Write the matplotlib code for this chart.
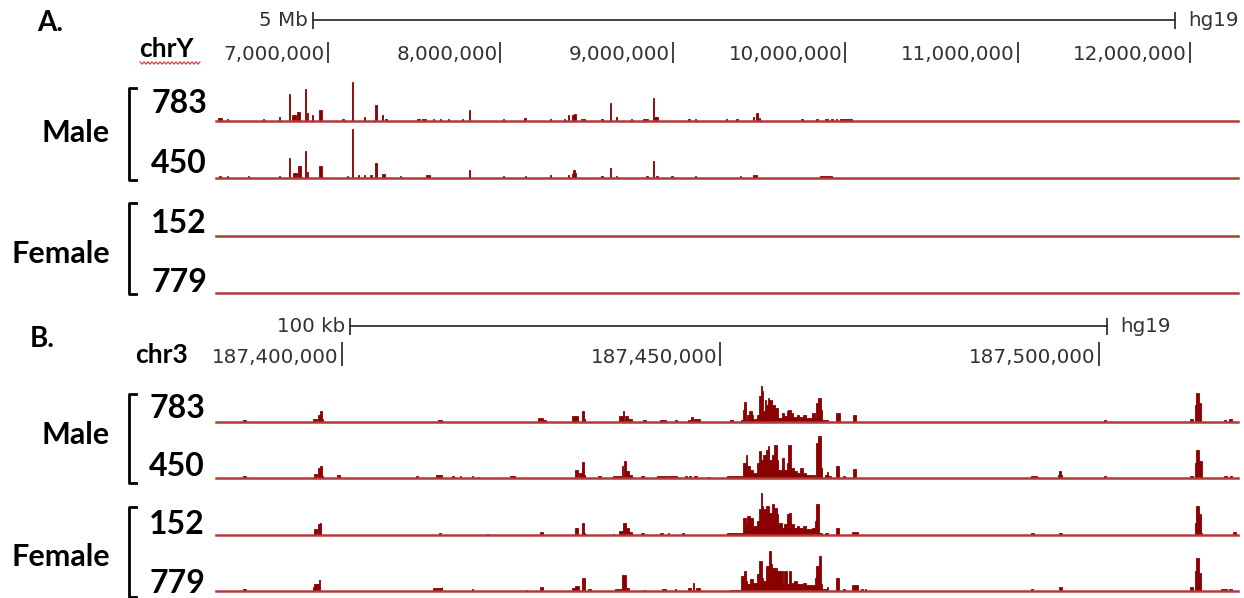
import numpy as np
import matplotlib
matplotlib.use("Agg")
import matplotlib.pyplot as plt
from matplotlib.lines import Line2D

W, H = 1244, 598

# ---------------- panel A: chrY (positions in Mb) ----------------
a_chrom = "chrY"
a_xlim = (6.350, 12.278)
a_ticks = [7, 8, 9, 10, 11, 12]
a_tick_labels = ["7,000,000", "8,000,000", "9,000,000",
                 "10,000,000", "11,000,000", "12,000,000"]
a_scale_start = 6.913
a_scale_len = 5
a_scale_label = "5 Mb"

# (start, end, signal)
a_783 = [
    (6.362, 6.385, 3), (6.411, 6.420, 2), (6.620, 6.628, 2), (6.714, 6.720, 4),
    (6.771, 6.779, 27), (6.791, 6.814, 6), (6.820, 6.837, 9), (6.864, 6.872, 32),
    (6.875, 6.884, 8), (6.904, 6.913, 6), (6.948, 6.962, 11), (7.083, 7.095, 2),
    (7.136, 7.144, 39), (7.206, 7.214, 4), (7.275, 7.283, 16), (7.310, 7.318, 6),
    (7.333, 7.339, 2), (7.516, 7.534, 2), (7.545, 7.568, 2), (7.606, 7.613, 2),
    (7.647, 7.654, 2), (7.693, 7.700, 2), (7.774, 7.781, 2), (7.815, 7.823, 11),
    (8.012, 8.019, 2), (8.138, 8.149, 3), (8.285, 8.292, 2), (8.366, 8.373, 2),
    (8.389, 8.397, 6), (8.415, 8.427, 6), (8.427, 8.439, 7), (8.468, 8.491, 2),
    (8.586, 8.593, 2), (8.633, 8.641, 18), (8.668, 8.675, 4), (8.755, 8.762, 2),
    (8.827, 8.856, 2), (8.882, 8.890, 23), (8.893, 8.914, 4), (9.088, 9.100, 2),
    (9.126, 9.133, 2), (9.306, 9.313, 2), (9.369, 9.376, 2), (9.462, 9.469, 4),
    (9.485, 9.492, 8), (9.497, 9.504, 3), (9.746, 9.753, 2), (9.833, 9.840, 2),
    (9.883, 9.900, 2), (9.920, 9.927, 2), (9.944, 9.951, 2), (9.970, 10.039, 2),
]
a_450 = [
    (6.367, 6.380, 2), (6.411, 6.420, 2), (6.533, 6.540, 2), (6.713, 6.720, 2),
    (6.771, 6.779, 20), (6.797, 6.820, 5), (6.825, 6.843, 12), (6.864, 6.872, 27),
    (6.875, 6.884, 6), (6.948, 6.962, 12), (7.107, 7.114, 2), (7.136, 7.144, 49),
    (7.171, 7.178, 3), (7.206, 7.214, 3), (7.246, 7.253, 3), (7.275, 7.283, 15),
    (7.313, 7.331, 4), (7.415, 7.422, 2), (7.568, 7.592, 3), (7.815, 7.823, 8),
    (8.012, 8.019, 2), (8.140, 8.147, 2), (8.285, 8.293, 3), (8.389, 8.397, 3),
    (8.415, 8.423, 4), (8.423, 8.432, 8), (8.432, 8.439, 5), (8.586, 8.593, 2),
    (8.633, 8.641, 10), (8.668, 8.675, 2), (8.847, 8.856, 2), (8.882, 8.890, 17),
    (8.905, 8.912, 2), (8.992, 8.999, 2), (9.126, 9.133, 2), (9.387, 9.394, 2),
    (9.462, 9.490, 3), (9.854, 9.923, 2),
]
a_152 = []
a_779 = []

# ---------------- panel B: chr3 (positions in kb) ----------------
b_chrom = "chr3"
b_xlim = (187383.4, 187518.4)
b_ticks = [187400, 187450, 187500]
b_tick_labels = ["187,400,000", "187,450,000", "187,500,000"]
b_scale_start = 187401.1
b_scale_len = 100
b_scale_label = "100 kb"

b_783 = [
    (187387.0, 187387.4, 2), (187396.2, 187396.8, 3), (187396.9, 187397.1, 7),
    (187397.1, 187397.4, 11), (187397.4, 187397.6, 3), (187412.7, 187413.3, 2),
    (187426.0, 187426.6, 4), (187426.6, 187427.0, 2), (187430.4, 187431.2, 6),
    (187431.7, 187432.0, 11), (187432.0, 187432.2, 3), (187436.6, 187437.1, 6),
    (187437.1, 187437.3, 11), (187437.4, 187437.8, 6), (187437.8, 187438.4, 3),
    (187439.8, 187440.2, 2), (187442.1, 187442.9, 2), (187444.0, 187444.3, 2),
    (187445.7, 187446.2, 2), (187446.2, 187446.4, 5), (187446.6, 187447.3, 3),
    (187449.0, 187449.1, 1), (187451.3, 187451.7, 2), (187452.8, 187453.0, 2),
    (187453.0, 187453.2, 12), (187453.2, 187453.4, 20), (187453.5, 187453.8, 7),
    (187453.8, 187454.2, 11), (187454.2, 187454.4, 7), (187454.4, 187454.8, 3),
    (187454.8, 187455.1, 7), (187455.1, 187455.4, 26), (187455.4, 187455.5, 36),
    (187455.5, 187455.6, 31), (187455.6, 187455.9, 11), (187455.9, 187456.1, 22),
    (187456.1, 187456.3, 17), (187456.3, 187456.5, 24), (187456.5, 187456.9, 22),
    (187456.9, 187457.2, 17), (187457.2, 187457.7, 14), (187457.7, 187458.1, 4),
    (187458.1, 187458.4, 9), (187458.4, 187458.8, 6), (187458.8, 187458.9, 11),
    (187458.9, 187459.3, 12), (187459.3, 187459.6, 9), (187459.6, 187460.1, 5),
    (187460.1, 187460.4, 7), (187460.4, 187460.8, 5), (187460.8, 187461.0, 4),
    (187461.0, 187461.4, 7), (187461.4, 187462.1, 4), (187462.1, 187462.5, 9),
    (187462.5, 187462.6, 4), (187462.6, 187462.9, 19), (187462.9, 187463.3, 24),
    (187463.3, 187463.5, 12), (187463.5, 187464.3, 2), (187465.3, 187465.8, 9),
    (187467.5, 187468.0, 7), (187500.7, 187500.9, 2), (187512.0, 187512.4, 3),
    (187512.7, 187512.9, 17), (187512.9, 187513.2, 29), (187513.2, 187513.5, 19),
    (187516.6, 187516.8, 2), (187517.2, 187517.6, 3),
]
b_450 = [
    (187387.0, 187387.4, 2), (187396.3, 187396.8, 4), (187396.9, 187397.1, 10),
    (187397.1, 187397.4, 12), (187397.4, 187397.6, 2), (187399.4, 187399.8, 3),
    (187409.8, 187410.1, 2), (187412.5, 187413.3, 3), (187414.6, 187414.8, 2),
    (187415.6, 187415.8, 2), (187417.2, 187417.4, 2), (187418.0, 187418.2, 1),
    (187422.2, 187422.9, 2), (187430.8, 187431.2, 8), (187431.3, 187431.7, 5),
    (187431.8, 187432.0, 16), (187432.0, 187432.2, 3), (187433.9, 187434.2, 2),
    (187435.9, 187437.0, 2), (187437.0, 187437.2, 12), (187437.3, 187437.5, 17),
    (187437.6, 187438.0, 7), (187438.0, 187438.4, 3), (187439.5, 187439.9, 2),
    (187441.7, 187443.1, 2), (187443.3, 187444.3, 2), (187445.3, 187445.6, 2),
    (187445.9, 187446.2, 2), (187446.6, 187447.0, 2), (187448.2, 187448.6, 1),
    (187449.0, 187449.1, 1), (187450.9, 187453.0, 2), (187453.0, 187453.4, 15),
    (187453.4, 187453.6, 23), (187453.6, 187454.0, 12), (187454.0, 187454.3, 8),
    (187454.3, 187454.8, 5), (187454.8, 187455.1, 15), (187455.1, 187455.4, 27),
    (187455.4, 187455.7, 18), (187455.7, 187456.0, 23), (187456.0, 187456.3, 28),
    (187456.3, 187456.5, 32), (187456.5, 187456.8, 18), (187456.8, 187457.1, 23),
    (187457.1, 187457.5, 33), (187457.5, 187457.7, 18), (187457.7, 187458.1, 8),
    (187458.1, 187458.4, 20), (187458.4, 187458.8, 8), (187458.8, 187458.9, 15),
    (187458.9, 187459.3, 33), (187459.3, 187459.7, 10), (187459.7, 187460.1, 7),
    (187460.1, 187460.5, 5), (187460.5, 187460.9, 10), (187460.9, 187461.3, 5),
    (187461.3, 187462.5, 3), (187462.6, 187462.9, 35), (187462.9, 187463.3, 42),
    (187463.3, 187463.5, 10), (187463.8, 187464.1, 3), (187464.1, 187464.3, 6),
    (187464.3, 187464.7, 2), (187465.3, 187465.7, 12), (187466.2, 187466.5, 2),
    (187467.5, 187468.0, 9), (187491.1, 187491.8, 2), (187494.6, 187494.7, 3),
    (187494.7, 187495.0, 7), (187495.0, 187495.1, 3), (187500.7, 187500.9, 2),
    (187512.0, 187512.4, 2), (187512.7, 187512.9, 15), (187512.9, 187513.2, 28),
    (187513.2, 187513.6, 17), (187516.6, 187517.0, 2), (187517.3, 187517.6, 2),
]
b_152 = [
    (187396.3, 187396.7, 6), (187396.9, 187397.1, 11), (187397.1, 187397.3, 12),
    (187412.8, 187413.1, 2), (187419.2, 187419.4, 1), (187426.2, 187426.6, 3),
    (187430.8, 187431.2, 7), (187431.8, 187432.0, 12), (187432.0, 187432.2, 2),
    (187435.9, 187436.0, 1), (187436.6, 187437.1, 4), (187437.1, 187437.5, 12),
    (187437.6, 187438.0, 7), (187438.0, 187438.4, 3), (187439.5, 187440.0, 2),
    (187442.1, 187442.4, 2), (187443.1, 187443.3, 2), (187444.9, 187445.2, 2),
    (187450.9, 187453.0, 2), (187453.0, 187453.4, 17), (187453.4, 187453.6, 11),
    (187453.6, 187454.0, 19), (187454.0, 187454.3, 17), (187454.3, 187454.8, 9),
    (187454.8, 187455.1, 14), (187455.1, 187455.4, 26), (187455.4, 187455.5, 42),
    (187455.5, 187455.7, 29), (187455.7, 187456.1, 26), (187456.1, 187456.5, 29),
    (187456.5, 187456.8, 22), (187456.8, 187457.1, 31), (187457.1, 187457.5, 27),
    (187457.5, 187457.7, 21), (187457.7, 187458.1, 12), (187458.1, 187458.4, 7),
    (187458.4, 187458.8, 11), (187458.8, 187459.1, 21), (187459.1, 187459.4, 22),
    (187459.4, 187459.7, 11), (187459.7, 187460.1, 7), (187460.1, 187460.4, 9),
    (187460.4, 187460.9, 7), (187460.9, 187461.3, 9), (187461.3, 187462.1, 6),
    (187462.1, 187462.5, 7), (187462.5, 187462.7, 14), (187462.7, 187463.1, 31),
    (187463.1, 187463.5, 2), (187463.8, 187464.2, 2), (187465.3, 187465.7, 7),
    (187467.4, 187468.2, 3), (187491.1, 187491.5, 2), (187494.7, 187495.1, 2),
    (187512.7, 187512.9, 12), (187512.9, 187513.2, 29), (187513.2, 187513.5, 21),
    (187513.5, 187513.7, 2), (187517.7, 187518.2, 3),
]
b_779 = [
    (187387.0, 187387.4, 2), (187396.2, 187396.4, 4), (187396.4, 187396.8, 7),
    (187396.8, 187397.0, 7), (187397.0, 187397.2, 11), (187412.0, 187413.2, 3),
    (187413.2, 187413.3, 4), (187417.2, 187417.4, 2), (187424.3, 187424.5, 1),
    (187426.2, 187426.6, 4), (187430.4, 187430.8, 3), (187430.8, 187431.4, 5),
    (187431.8, 187432.1, 13), (187432.6, 187432.9, 2), (187436.1, 187437.0, 2),
    (187437.0, 187437.6, 16), (187437.6, 187438.0, 3), (187440.0, 187440.1, 1),
    (187442.3, 187442.9, 2), (187444.0, 187444.2, 2), (187445.7, 187446.2, 3),
    (187446.4, 187446.6, 8), (187446.8, 187447.3, 3), (187451.3, 187452.8, 1.5),
    (187452.8, 187453.1, 15), (187453.1, 187453.4, 20), (187453.4, 187453.6, 10),
    (187453.6, 187454.0, 7), (187454.0, 187454.3, 12), (187454.3, 187454.8, 8),
    (187454.8, 187455.1, 17), (187455.1, 187455.5, 30), (187455.5, 187455.6, 13),
    (187455.6, 187456.1, 10), (187456.1, 187456.4, 25), (187456.4, 187456.7, 40),
    (187456.7, 187456.9, 27), (187456.9, 187457.5, 23), (187457.5, 187457.7, 20),
    (187457.7, 187458.3, 20), (187458.3, 187458.4, 8), (187458.4, 187458.8, 20),
    (187458.8, 187459.1, 7), (187459.1, 187459.4, 20), (187459.4, 187459.8, 8),
    (187459.8, 187460.2, 10), (187460.2, 187460.9, 7), (187460.9, 187461.4, 8),
    (187461.4, 187462.5, 6), (187462.5, 187462.7, 13), (187462.7, 187463.0, 25),
    (187463.0, 187463.3, 35), (187463.3, 187463.5, 7), (187463.5, 187464.1, 2),
    (187464.1, 187464.3, 4), (187465.3, 187465.7, 13), (187466.2, 187466.5, 2),
    (187467.4, 187468.2, 6), (187468.6, 187468.8, 2), (187469.1, 187469.3, 2),
    (187491.0, 187491.3, 2), (187494.7, 187495.1, 4), (187512.0, 187512.5, 4),
    (187512.7, 187512.9, 20), (187512.9, 187513.2, 33), (187513.2, 187513.5, 18),
    (187516.2, 187516.9, 2), (187517.2, 187517.6, 2),
]

samples = ["783", "450", "152", "779"]
groups = ["Male", "Female"]

PEAK = "#8b0000"
BASE = "#b03a3a"
RULER = "#333333"
LABEL_FONT = ["Lato", "DejaVu Sans"]
RULER_SIZE = 14.3

TRACK_L, TRACK_R = 216, 1238
TRACK_H = 56


def fx(px):
    return px / W


def fy(py):
    return 1 - py / H


fig = plt.figure(figsize=(W / 100, H / 100), dpi=100)
fig.patch.set_facecolor("white")


def draw_track(baseline, xlim, data):
    ax = fig.add_axes([fx(TRACK_L), fy(baseline), fx(TRACK_R - TRACK_L), TRACK_H / H])
    ax.set_xlim(xlim)
    ax.set_ylim(0, TRACK_H)
    ax.axis("off")
    if data:
        s, e, h = (np.array(v) for v in zip(*data))
        ax.bar(s, h, width=e - s, align="edge", color=PEAK,
               edgecolor=PEAK, linewidth=0.6)
    ax.axhline(0, color=BASE, lw=1.8, clip_on=False)


def draw_ruler(top, xlim, ticks, labels, s0, slen, slabel, bar_y, tick_y0, tick_y1):
    ax = fig.add_axes([fx(TRACK_L), fy(top + 75), fx(TRACK_R - TRACK_L), 75 / H])
    ax.set_xlim(xlim)
    ax.set_ylim(top + 75, top)
    ax.axis("off")
    # scale bar
    ax.plot([s0, s0 + slen], [bar_y, bar_y], color=RULER, lw=1.3)
    ax.vlines([s0, s0 + slen], bar_y - 8, bar_y + 9, color=RULER, lw=1.3)
    ax.annotate(slabel, (s0, bar_y), xytext=(-5, 0), textcoords="offset pixels",
                ha="right", va="center", fontsize=RULER_SIZE, color=RULER)
    ax.annotate("hg19", (s0 + slen, bar_y), xytext=(13, 0), textcoords="offset pixels",
                ha="left", va="center", fontsize=RULER_SIZE, color=RULER)
    # position ticks
    ax.vlines(ticks, tick_y0, tick_y1, color=RULER, lw=1.3)
    for t, lab in zip(ticks, labels):
        ax.annotate(lab, (t, tick_y1 - 3), xytext=(-3, 0), textcoords="offset pixels",
                    ha="right", va="baseline", fontsize=RULER_SIZE, color=RULER)


def bracket(top, bottom, x=129, arm=7):
    fig.add_artist(Line2D([fx(x + arm), fx(x), fx(x), fx(x + arm)],
                          [fy(top), fy(top), fy(bottom), fy(bottom)],
                          transform=fig.transFigure, color="black", lw=2))


def label(x, y, s, size, ha="right"):
    fig.text(fx(x), fy(y), s, ha=ha, va="baseline", fontsize=size,
             fontweight="bold", family=LABEL_FONT, color="black")


# ---- panel A ----
draw_ruler(0, a_xlim, a_ticks, a_tick_labels, a_scale_start, a_scale_len,
           a_scale_label, 20, 42, 63)
a_bases = [121, 178, 236, 293]
for b, d in zip(a_bases, [a_783, a_450, a_152, a_779]):
    draw_track(b, a_xlim, d)

label(37, 31, "A.", 20, ha="left")
label(139, 57, a_chrom, 19, ha="left")
# spell-check squiggle under chrY
zx = np.arange(140, 202, 2)
zy = 63 + np.where(np.arange(zx.size) % 2 == 0, -1.2, 1.2)
fig.add_artist(Line2D(fx(zx), fy(zy), transform=fig.transFigure,
                      color="#e03030", lw=0.8))
for s, yb in zip(samples, [113, 173, 233, 292]):
    label(207, yb, s, 23)
label(110, 142, groups[0], 22)
label(110, 263, groups[1], 22)
bracket(88, 180)
bracket(203, 294)

# ---- panel B ----
draw_ruler(300, b_xlim, b_ticks, b_tick_labels, b_scale_start, b_scale_len,
           b_scale_label, 326, 342, 366)
b_bases = [422, 478, 535, 591]
for b, d in zip(b_bases, [b_783, b_450, b_152, b_779]):
    draw_track(b, b_xlim, d)

label(30, 347, "B.", 20, ha="left")
label(135, 363, b_chrom, 19, ha="left")
for s, yb in zip(samples, [418, 476, 534, 593]):
    label(205, yb, s, 23)
label(110, 444, groups[0], 22)
label(110, 566, groups[1], 22)
bracket(394, 483)
bracket(507, 597)

fig.savefig("out.png", dpi=100, facecolor="white")
